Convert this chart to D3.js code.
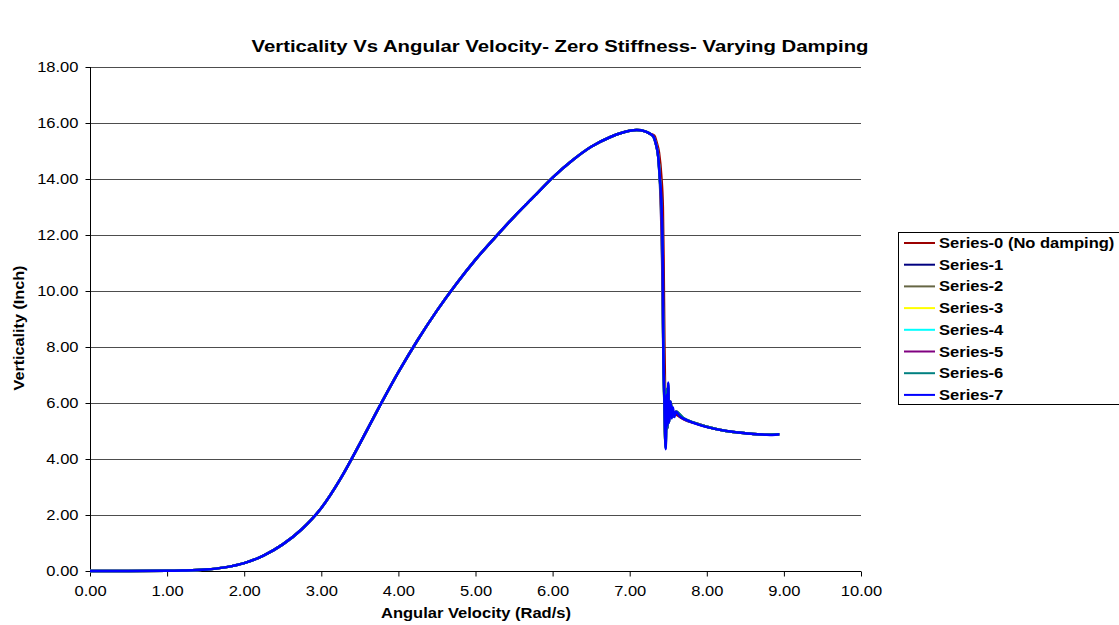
<!DOCTYPE html>
<html>
<head>
<meta charset="utf-8">
<script src="https://cdn.jsdelivr.net/npm/d3@7"></script>
<style>
body { margin: 0; background: #fff; }
text { font-family: "Liberation Sans", Arial, sans-serif; fill: #000; }
</style>
</head>
<body>
<div id="chart"></div>
<script>

// rising part, shared by every series (they all lie on top of each other here)
var riseV = [0, 0.5, 1.0, 1.2, 1.5, 1.75, 2.0, 2.25, 2.5, 2.75, 3.0, 3.25, 3.5, 3.75, 4.0, 4.25, 4.5, 4.75, 5.0, 5.25, 5.5, 5.75, 6.0, 6.25, 6.5, 6.75, 6.9, 7.0, 7.09, 7.2, 7.26];
var riseH = [0, 0, 0.005, 0.015, 0.05, 0.13, 0.28, 0.55, 0.95, 1.5, 2.25, 3.3, 4.55, 5.85, 7.1, 8.25, 9.3, 10.25, 11.12, 11.9, 12.65, 13.35, 14.05, 14.65, 15.15, 15.5, 15.65, 15.72, 15.75, 15.7, 15.62];

// drop + settling part for each series [angular velocity, verticality]
var tail0 = [[7.32, 15.55], [7.35, 15.3], [7.38, 14.95], [7.41, 14.1], [7.43, 13.0], [7.44, 11.0], [7.45, 8.2], [7.46, 6.2], [7.47, 5.1], [7.48, 5.9], [7.49, 5.3], [7.5, 5.8], [7.52, 5.45], [7.55, 5.7], [7.6, 5.6], [7.7, 5.42], [7.85, 5.28], [8.0, 5.15], [8.25, 5.0], [8.5, 4.92], [8.75, 4.87], [8.94, 4.88]];
var tail1 = [[7.31, 15.5], [7.34, 15.25], [7.37, 14.8], [7.4, 13.6], [7.42, 11.8], [7.435, 8.5], [7.45, 6.0], [7.465, 4.6], [7.48, 6.1], [7.49, 5.1], [7.5, 6.4], [7.51, 5.4], [7.53, 5.95], [7.56, 5.5], [7.6, 5.68], [7.7, 5.45], [7.85, 5.28], [8.0, 5.15], [8.25, 5.0], [8.5, 4.92], [8.75, 4.87], [8.94, 4.88]];
var tail2 = [[7.31, 15.5], [7.34, 15.25], [7.37, 14.8], [7.4, 13.6], [7.42, 11.6], [7.435, 8.3], [7.45, 5.9], [7.465, 4.5], [7.48, 6.2], [7.49, 5.2], [7.5, 6.5], [7.51, 5.35], [7.53, 6.0], [7.56, 5.5], [7.6, 5.7], [7.7, 5.45], [7.85, 5.28], [8.0, 5.15], [8.25, 5.0], [8.5, 4.92], [8.75, 4.87], [8.94, 4.88]];
var tail3 = [[7.31, 15.5], [7.34, 15.25], [7.37, 14.8], [7.4, 13.5], [7.42, 11.5], [7.435, 8.2], [7.45, 5.8], [7.465, 4.45], [7.48, 6.3], [7.49, 5.2], [7.5, 6.55], [7.51, 5.3], [7.53, 6.0], [7.56, 5.5], [7.6, 5.7], [7.7, 5.45], [7.85, 5.28], [8.0, 5.15], [8.25, 5.0], [8.5, 4.92], [8.75, 4.87], [8.94, 4.88]];
var tail4 = [[7.31, 15.5], [7.34, 15.25], [7.37, 14.8], [7.4, 13.4], [7.42, 11.4], [7.435, 8.1], [7.45, 5.8], [7.466, 4.4], [7.48, 6.4], [7.49, 5.15], [7.5, 6.6], [7.51, 5.3], [7.53, 6.02], [7.56, 5.5], [7.6, 5.7], [7.7, 5.45], [7.85, 5.28], [8.0, 5.15], [8.25, 5.0], [8.5, 4.92], [8.75, 4.87], [8.94, 4.88]];
var tail5 = [[7.31, 15.5], [7.34, 15.25], [7.37, 14.8], [7.4, 13.3], [7.42, 11.2], [7.435, 8.0], [7.45, 5.9], [7.466, 4.4], [7.48, 6.5], [7.49, 5.1], [7.5, 6.65], [7.51, 5.3], [7.53, 6.05], [7.56, 5.5], [7.6, 5.7], [7.7, 5.42], [7.85, 5.28], [8.0, 5.15], [8.25, 5.0], [8.5, 4.92], [8.75, 4.87], [8.94, 4.88]];
var tail6 = [[7.31, 15.5], [7.34, 15.25], [7.37, 14.8], [7.39, 14.0], [7.41, 13.2], [7.43, 10.9], [7.436, 7.9], [7.45, 6.0], [7.467, 4.38], [7.48, 6.5], [7.49, 5.1], [7.5, 6.7], [7.51, 5.3], [7.53, 6.05], [7.56, 5.5], [7.6, 5.69], [7.7, 5.45], [7.85, 5.28], [8.0, 5.15], [8.25, 5.0], [8.5, 4.92], [8.75, 4.87], [8.94, 4.88]];
var tail7 = [[7.31, 15.51], [7.34, 15.25], [7.37, 14.8], [7.39, 14.08], [7.41, 13.25], [7.43, 10.87], [7.436, 7.9], [7.45, 6.1], [7.467, 4.35], [7.475, 5.6], [7.48, 6.3], [7.49, 5.2], [7.5, 6.73], [7.51, 5.3], [7.52, 5.75], [7.53, 6.05], [7.545, 5.45], [7.56, 5.85], [7.58, 5.5], [7.6, 5.69], [7.65, 5.52], [7.74, 5.39], [7.9, 5.22], [8.17, 5.04], [8.4, 4.95], [8.6, 4.89], [8.75, 4.87], [8.85, 4.86], [8.94, 4.88]];

var seriesNames = ["Series-0 (No damping)", "Series-1", "Series-2", "Series-3", "Series-4", "Series-5", "Series-6", "Series-7"];
var seriesTails = [tail0, tail1, tail2, tail3, tail4, tail5, tail6, tail7];
var seriesColors = ["#9b0000", "#000080", "#666644", "#ffff00", "#00ffff", "#800080", "#008080", "#0000ff"];

var xTicks = [0, 1, 2, 3, 4, 5, 6, 7, 8, 9, 10];
var yTicks = [0, 2, 4, 6, 8, 10, 12, 14, 16, 18];

var width = 1119, height = 625;
var mLeft = 90, mRight = 861, mTop = 67, mBottom = 571;

var svg = d3.select("#chart").append("svg")
	.attr("width", width)
	.attr("height", height);

var x = d3.scaleLinear().domain([0, 10]).range([mLeft, mRight]);
var y = d3.scaleLinear().domain([0, 18]).range([mBottom, mTop]);

// the original picture is a bit wider than it is tall, so text gets stretched sideways
function stretch(sel, k) {
	sel.each(function() {
		var w = this.getComputedTextLength();
		d3.select(this).attr("textLength", w * k).attr("lengthAdjust", "spacingAndGlyphs");
	});
}

// gridlines
svg.append("g").selectAll("line").data(yTicks.slice(1)).enter().append("line")
	.attr("x1", mLeft).attr("x2", mRight)
	.attr("y1", function(d) { return y(d) + 0.5; }).attr("y2", function(d) { return y(d) + 0.5; })
	.attr("stroke", "#4d4d4d").attr("stroke-width", 1);

// axes
var xAxis = svg.append("g").attr("transform", "translate(0," + (mBottom + 0.5) + ")")
	.call(d3.axisBottom(x).tickValues(xTicks).tickFormat(d3.format(".2f")).tickSize(5).tickPadding(10));
var yAxis = svg.append("g").attr("transform", "translate(" + (mLeft + 0.5) + ",0)")
	.call(d3.axisLeft(y).tickValues(yTicks).tickFormat(d3.format(".2f")).tickSize(5).tickPadding(7));

[xAxis, yAxis].forEach(function(a) {
	a.select(".domain").attr("stroke", "#000");
	a.selectAll(".tick line").attr("stroke", "#000");
	a.selectAll(".tick text").style("font-size", "14px").style("font-family", "Liberation Sans, Arial, sans-serif").attr("fill", "#000")
		.call(stretch, 1.18);
});
xAxis.select(".domain").attr("d", "M" + mLeft + ",0H" + mRight);
yAxis.select(".domain").attr("d", "M0," + mTop + "V" + mBottom);

// series
var line = d3.line().curve(d3.curveMonotoneX)
	.x(function(d) { return x(d[0]); }).y(function(d) { return y(d[1]); });

seriesTails.forEach(function(tail, i) {
	var pts = riseV.map(function(v, k) { return [v, riseH[k]]; }).concat(tail);
	svg.append("path")
		.attr("d", line(pts))
		.attr("fill", "none")
		.attr("stroke", seriesColors[i])
		.attr("stroke-width", 2.5)
		.attr("stroke-linejoin", "round");
});

// titles
svg.append("text").attr("x", 560).attr("y", 52).attr("text-anchor", "middle")
	.style("font-weight", "bold").style("font-size", "16px")
	.text("Verticality Vs Angular Velocity- Zero Stiffness- Varying Damping")
	.attr("textLength", 617).attr("lengthAdjust", "spacingAndGlyphs");

svg.append("text").attr("x", 476).attr("y", 618).attr("text-anchor", "middle")
	.style("font-weight", "bold").style("font-size", "14px")
	.text("Angular Velocity (Rad/s)")
	.call(stretch, 1.18);

svg.append("text").attr("transform", "translate(24,328) rotate(-90)").attr("text-anchor", "middle")
	.style("font-weight", "bold").style("font-size", "15px")
	.text("Verticality (Inch)")
	.attr("textLength", 125).attr("lengthAdjust", "spacingAndGlyphs");

// legend
var leg = svg.append("g");
leg.append("rect").attr("x", 898.5).attr("y", 232.5).attr("width", 240).attr("height", 172)
	.attr("fill", "#fff").attr("stroke", "#000").attr("stroke-width", 1);

seriesNames.forEach(function(name, i) {
	var ly = 243 + i * 21.7;
	leg.append("line").attr("x1", 904).attr("x2", 935).attr("y1", ly).attr("y2", ly)
		.attr("stroke", seriesColors[i]).attr("stroke-width", 2);
	leg.append("text").attr("x", 939).attr("y", ly + 5)
		.style("font-weight", "bold").style("font-size", "14px")
		.text(name)
		.call(stretch, 1.18);
});

</script>
</body>
</html>
